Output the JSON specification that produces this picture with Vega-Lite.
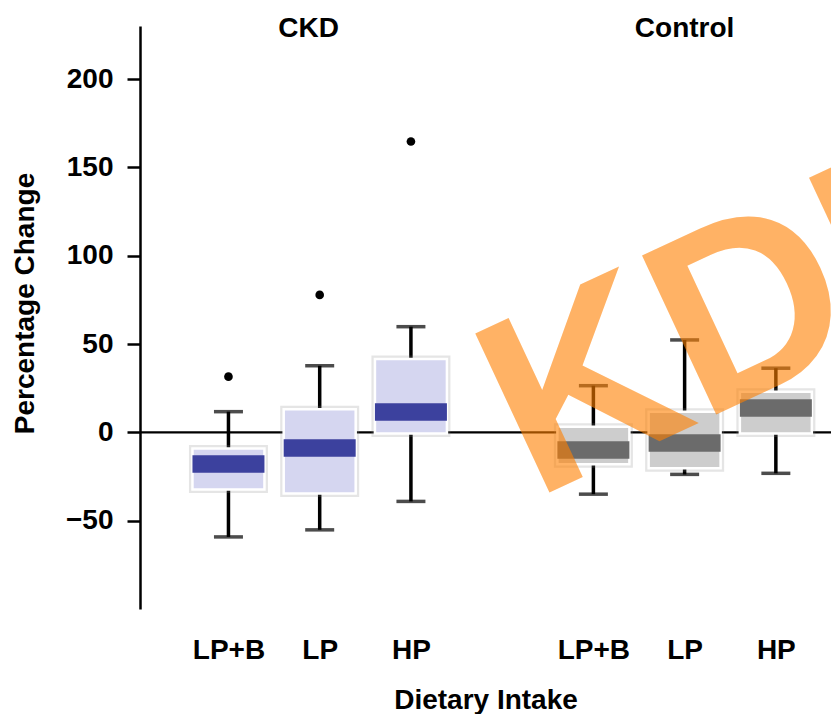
{
  "$schema": "https://vega.github.io/schema/vega-lite/v6.json",
  "autosize": "none",
  "padding": {"left": 140, "top": 26, "right": 0, "bottom": 105},
  "width": 691,
  "height": 583,
  "background": "white",
  "config": {"view": {"stroke": null}, "font": "Liberation Sans"},
  "data": {
    "values": [
      {"group": "CKD", "diet": "LP+B", "lo": -59.2, "q1": -32.3, "median": -17.9, "q3": -9.1, "hi": 11.7},
      {"group": "CKD", "diet": "LP", "lo": -55.2, "q1": -34.6, "median": -8.9, "q3": 13.0, "hi": 37.7},
      {"group": "CKD", "diet": "HP", "lo": -39.1, "q1": -0.6, "median": 11.5, "q3": 41.5, "hi": 59.8},
      {"group": "Control", "diet": "LP+B", "lo": -35.0, "q1": -18.0, "median": -10.0, "q3": 3.2, "hi": 26.4},
      {"group": "Control", "diet": "LP", "lo": -23.8, "q1": -20.4, "median": -6.0, "q3": 11.7, "hi": 52.3},
      {"group": "Control", "diet": "HP", "lo": -23.2, "q1": -0.6, "median": 13.8, "q3": 23.0, "hi": 36.3}
    ]
  },
  "transform": [{"calculate": "datum.group + ' ' + datum.diet", "as": "key"}],
  "layer": [
    {
      "data": {"values": [{}]},
      "mark": {"type": "rule", "color": "black", "strokeWidth": 2.2},
      "encoding": {"y": {"datum": 0, "type": "quantitative", "title": "Percentage Change"}}
    },
    {
      "mark": {"type": "rule", "color": "black", "strokeWidth": 3.5},
      "encoding": {
        "x": {
          "field": "key", "type": "nominal", "title": "Dietary Intake",
          "scale": {"type": "point", "domain": ["CKD LP+B", "CKD LP", "CKD HP", "gap", "Control LP+B", "Control LP", "Control HP"], "padding": 0.787, "align": 0.616},
          "axis": {
            "values": ["CKD LP+B", "CKD LP", "CKD HP", "Control LP+B", "Control LP", "Control HP"],
            "labelExpr": "split(datum.label, ' ')[1]",
            "domain": false, "ticks": false, "tickSize": 0, "grid": false,
            "labelAngle": 0, "labelPadding": 27,
            "labelFont": "Liberation Sans", "labelFontSize": 28, "labelFontWeight": "bold", "labelColor": "black",
            "titleFont": "Liberation Sans", "titleFontSize": 28, "titleFontWeight": "bold", "titleColor": "black",
            "titleY": 77.5, "titleBaseline": "top"
          }
        },
        "y": {
          "field": "lo", "type": "quantitative", "title": "Percentage Change",
          "scale": {"domain": [-100, 230], "nice": false, "zero": false},
          "axis": {
            "values": [-50, 0, 50, 100, 150, 200], "grid": false,
            "domainColor": "black", "domainWidth": 2.5,
            "tickColor": "black", "tickWidth": 2.5, "tickSize": 13,
            "labelPadding": 14, "labelFont": "Liberation Sans", "labelFontSize": 28, "labelFontWeight": "bold", "labelColor": "black",
            "titleFont": "Liberation Sans", "titleFontSize": 28, "titleFontWeight": "bold", "titleColor": "black",
            "titleX": -107, "titleY": 277, "titleBaseline": "alphabetic", "titleAlign": "center", "titleAngle": -90
          }
        },
        "y2": {"field": "hi"}
      }
    },
    {
      "mark": {"type": "tick", "color": "black", "size": 29, "thickness": 3.5},
      "encoding": {
        "x": {"field": "key", "type": "nominal", "title": "Dietary Intake"},
        "y": {"field": "lo", "type": "quantitative", "title": "Percentage Change"}
      }
    },
    {
      "mark": {"type": "tick", "color": "black", "size": 29, "thickness": 3.5},
      "encoding": {
        "x": {"field": "key", "type": "nominal", "title": "Dietary Intake"},
        "y": {"field": "hi", "type": "quantitative", "title": "Percentage Change"}
      }
    },
    {
      "mark": {"type": "bar", "size": 72, "fill": "#ffffff", "stroke": "#8a8a8a", "strokeOpacity": 0.22, "strokeWidth": 7},
      "encoding": {
        "x": {"field": "key", "type": "nominal", "title": "Dietary Intake"},
        "y": {"field": "q1", "type": "quantitative", "title": "Percentage Change"},
        "y2": {"field": "q3"}
      }
    },
    {
      "mark": {"type": "bar", "size": 72, "stroke": "#ffffff", "strokeWidth": 2.5},
      "encoding": {
        "x": {"field": "key", "type": "nominal", "title": "Dietary Intake"},
        "y": {"field": "q1", "type": "quantitative", "title": "Percentage Change"},
        "y2": {"field": "q3"},
        "fill": {"field": "group", "type": "nominal", "scale": {"domain": ["CKD", "Control"], "range": ["#d5d6f0", "#cdcdcd"]}, "legend": null}
      }
    },
    {
      "mark": {"type": "tick", "size": 72, "thickness": 17.5, "opacity": 1},
      "encoding": {
        "x": {"field": "key", "type": "nominal", "title": "Dietary Intake"},
        "y": {"field": "median", "type": "quantitative", "title": "Percentage Change"},
        "color": {"field": "group", "type": "nominal", "scale": {"domain": ["CKD", "Control"], "range": ["#3c419e", "#6b6b6b"]}, "legend": null}
      }
    },
    {
      "data": {
        "values": [
          {"group": "CKD", "diet": "LP+B", "value": 31.5},
          {"group": "CKD", "diet": "LP", "value": 77.8},
          {"group": "CKD", "diet": "HP", "value": 164.6}
        ]
      },
      "transform": [{"calculate": "datum.group + ' ' + datum.diet", "as": "key"}],
      "mark": {"type": "point", "filled": true, "color": "black", "size": 75, "opacity": 1},
      "encoding": {
        "x": {"field": "key", "type": "nominal", "title": "Dietary Intake"},
        "y": {"field": "value", "type": "quantitative", "title": "Percentage Change"}
      }
    },
    {
      "data": {"values": [{"label": "CKD"}]},
      "mark": {"type": "text", "font": "Liberation Sans", "fontSize": 28, "fontWeight": "bold", "color": "black", "align": "center", "baseline": "alphabetic", "dx": -11},
      "encoding": {
        "x": {"datum": "CKD LP"},
        "y": {"datum": 224, "type": "quantitative"},
        "text": {"field": "label"}
      }
    },
    {
      "data": {"values": [{"label": "Control"}]},
      "mark": {"type": "text", "font": "Liberation Sans", "fontSize": 28, "fontWeight": "bold", "color": "black", "align": "center", "baseline": "alphabetic"},
      "encoding": {
        "x": {"datum": "Control LP"},
        "y": {"datum": 224, "type": "quantitative"},
        "text": {"field": "label"}
      }
    },
    {
      "data": {"values": [{"label": "KDI"}]},
      "mark": {"type": "text", "font": "Liberation Sans", "fontSize": 255, "fontWeight": "bold", "color": "#ff8000", "opacity": 0.6, "angle": -25, "align": "left", "baseline": "alphabetic", "dx": 35},
      "encoding": {
        "x": {"datum": "gap"},
        "y": {"datum": -46.5, "type": "quantitative"},
        "text": {"field": "label"}
      }
    }
  ]
}
